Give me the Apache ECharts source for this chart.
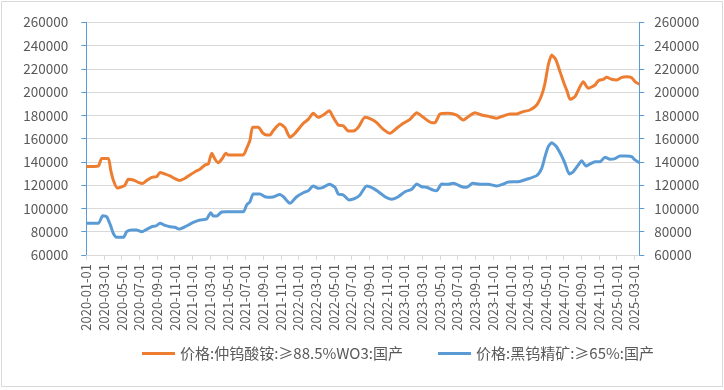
<!DOCTYPE html>
<html><head><meta charset="utf-8">
<script src="https://cdn.jsdelivr.net/npm/echarts@6/dist/echarts.min.js"></script>
<style>html,body{margin:0;padding:0;background:#fff}#c{width:724px;height:390px}</style>
</head><body><div id="c"></div>
<script>
// month offsets from 2020-01-01
const aptMonths = [0,1.36,1.74,2.49,2.76,3.05,3.51,4.0,4.38,4.75,5.32,5.88,6.38,6.83,7.4,7.96,8.34,8.9,9.47,10.03,10.52,11.17,11.73,12.3,12.86,13.43,13.8,14.19,14.56,14.93,15.32,15.8,16.06,17.76,18.14,18.52,18.82,19.46,19.95,20.41,20.78,21.15,21.91,22.48,23.04,23.61,24.55,25.11,25.68,26.24,26.81,27.49,27.94,28.51,29.07,29.64,30.2,30.77,31.53,32.28,32.85,33.6,34.36,35.11,35.86,36.62,37.38,38.12,39.07,39.45,40.01,40.95,41.9,42.65,43.21,43.97,44.73,45.67,46.43,47.17,47.93,48.69,49.43,50.19,50.95,51.52,51.89,52.26,52.65,53.13,53.59,54.04,54.41,54.72,55.28,55.85,56.22,56.79,57.55,57.92,58.48,58.87,59.43,60.0,60.57,61.13,61.7,62.07,62.56];
const aptPrices = [136000,136500,143000,143000,133000,124500,117500,118500,120000,125000,124500,122500,121500,124000,126800,127300,131000,129600,128000,125600,124000,126000,128800,131600,133700,137400,138200,147400,142300,139300,142300,147400,146000,146000,151700,158800,169800,169800,165000,163100,163100,167000,172600,169400,161200,164600,173200,176600,181800,178300,180300,184000,178300,171700,171100,166600,166600,169800,178300,176600,173700,168000,164600,168900,173200,176600,182300,178300,173700,173700,181200,181800,180300,176000,178900,182300,180300,178900,177500,179500,181200,181200,183200,184600,188900,197500,207600,223300,231900,227600,217600,207600,200400,193800,196100,204700,209000,203300,206100,209800,211000,212700,211000,210400,212700,213300,212400,209000,206700];
const oreMonths = [0,1.36,1.86,2.31,2.76,3.05,3.44,4.19,4.57,5.14,5.7,6.27,6.83,7.4,7.88,8.34,8.9,9.47,10.03,10.52,11.17,11.73,12.3,12.86,13.62,14.07,14.37,14.75,15.32,15.88,17.76,18.14,18.52,18.89,19.65,20.21,20.97,21.91,22.29,23.04,23.8,24.55,25.11,25.68,26.24,26.81,27.49,28.13,28.51,29.07,29.72,30.4,30.96,31.72,32.47,33.03,33.79,34.55,35.29,36.05,36.81,37.38,37.94,38.51,39.25,39.64,40.2,40.95,41.52,42.47,43.03,43.71,44.54,45.48,46.43,47.17,47.74,48.87,49.82,50.95,51.52,51.89,52.26,52.65,53.13,53.67,54.15,54.64,55.09,55.66,56.04,56.53,56.98,57.55,58.11,58.68,59.24,59.81,60.37,61.13,61.7,62.07,62.56];
const orePrices = [87200,87200,93800,92900,85000,78700,75200,75200,80000,81500,81500,80000,82100,84300,85000,87200,85500,84300,83800,82300,84300,86600,88600,90100,90900,96400,93500,93500,97000,97200,97200,103000,105800,112400,112400,110100,109600,112000,110100,104400,110100,113500,115300,119300,117300,118200,120800,118200,112400,111600,107300,108700,111600,119300,117300,114400,110100,107900,110100,114400,116500,121000,118700,118200,115800,115300,121000,120800,121600,118700,118200,121600,120800,120800,119300,121000,122700,123000,125100,128200,134500,144500,153100,156500,153700,146800,138800,129600,131600,137400,141000,136500,138200,140200,140200,144000,142300,142800,145000,145000,144500,141700,139300];
const seriesNames = ['价格:仲钨酸铵:≥88.5%WO3:国产', '价格:黑钨精矿:≥65%:国产'];
const yMin = 60000, yMax = 260000, yStep = 20000;
const xMax = 62.56;

const chart = echarts.init(document.getElementById('c'));
const font = 'Noto Sans CJK SC';
const txt = '#595959';
function fmtX(v){
  if (Math.abs(v - Math.round(v)) > 1e-6) return '';
  const m = Math.round(v);
  const y = 2020 + Math.floor(m/12);
  const mo = m % 12 + 1;
  return y + '-' + (mo < 10 ? '0' + mo : mo) + '-01';
}
const yAxisBase = (pos) => ({
  type: 'value', position: pos, min: yMin, max: yMax, interval: yStep,
  axisLine: {show: true, lineStyle: {color: '#5B9BD5', width: 1}},
  axisTick: {show: true, length: 5, lineStyle: {color: '#5B9BD5'}},
  axisLabel: {color: txt, fontSize: 13.5, fontFamily: font, margin: pos === 'left' ? 18 : 15,
              formatter: (v) => String(v)},
  splitLine: {show: pos === 'left', lineStyle: {color: '#D9D9D9', width: 1}}
});
chart.setOption({
  animation: false,
  backgroundColor: '#fff',
  graphic: [{type: 'rect', shape: {x: 1.5, y: 1.5, width: 721, height: 385}, style: {fill: 'none', stroke: '#D9D9D9', lineWidth: 1}}],
  grid: {left: 86.3, right: 84.7, top: 22.3, bottom: 135, containLabel: false},
  legend: {
    bottom: 24, left: 137, itemWidth: 33, itemHeight: 3, itemGap: 35, icon: 'rect',
    textStyle: {color: txt, fontSize: 15, fontFamily: font},
    data: seriesNames
  },
  xAxis: {
    type: 'value', min: 0, max: xMax, interval: 2,
    axisLine: {show: true, lineStyle: {color: '#D9D9D9'}},
    axisTick: {show: true, length: 5, lineStyle: {color: '#D9D9D9'}},
    axisLabel: {rotate: 90, margin: 9, color: txt, fontSize: 13, fontFamily: font, formatter: fmtX, showMaxLabel: false},
    splitLine: {show: false}
  },
  yAxis: [yAxisBase('left'), yAxisBase('right')],
  series: [
    {name: seriesNames[0], type: 'line', showSymbol: false, smooth: 0.2, yAxisIndex: 0,
     data: aptMonths.map((m, i) => [m, aptPrices[i]]),
     lineStyle: {color: '#ED7D31', width: 3}, itemStyle: {color: '#ED7D31'}},
    {name: seriesNames[1], type: 'line', showSymbol: false, smooth: 0.2, yAxisIndex: 1,
     data: oreMonths.map((m, i) => [m, orePrices[i]]),
     lineStyle: {color: '#5B9BD5', width: 3}, itemStyle: {color: '#5B9BD5'}}
  ]
});
</script></body></html>
